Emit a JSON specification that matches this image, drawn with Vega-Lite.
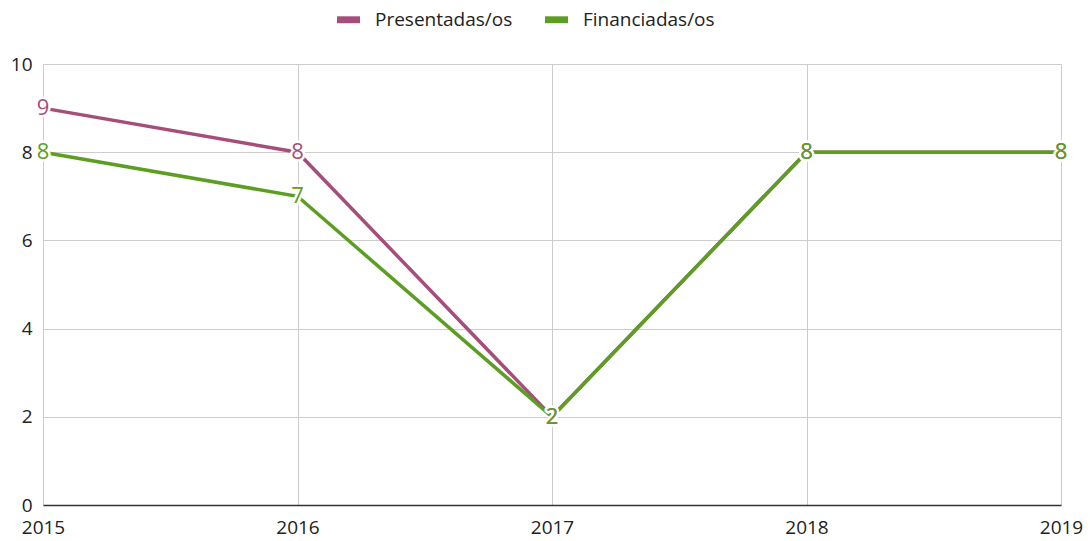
{
  "$schema": "https://vega.github.io/schema/vega-lite/v6.json",
  "width": 1018,
  "height": 441,
  "autosize": {"type": "none"},
  "padding": {"left": 43, "top": 64, "right": 29, "bottom": 36},
  "config": {
    "view": {"stroke": null},
    "font": "Open Sans",
    "axis": {"labelFont": "Open Sans", "labelFontSize": 19, "labelColor": "#222222", "gridColor": "#cccccc", "gridWidth": 1, "ticks": false},
    "legend": {"labelFont": "Open Sans", "labelFontSize": 19, "labelColor": "#222222"}
  },
  "data": {
    "values": [
      {"year": "2015", "series": "Presentadas/os", "value": 9},
      {"year": "2016", "series": "Presentadas/os", "value": 8},
      {"year": "2017", "series": "Presentadas/os", "value": 2},
      {"year": "2018", "series": "Presentadas/os", "value": 8},
      {"year": "2019", "series": "Presentadas/os", "value": 8},
      {"year": "2015", "series": "Financiadas/os", "value": 8},
      {"year": "2016", "series": "Financiadas/os", "value": 7},
      {"year": "2017", "series": "Financiadas/os", "value": 2},
      {"year": "2018", "series": "Financiadas/os", "value": 8},
      {"year": "2019", "series": "Financiadas/os", "value": 8}
    ]
  },
  "encoding": {
    "x": {
      "field": "year", "type": "ordinal",
      "scale": {"type": "point", "padding": 0},
      "axis": {"title": null, "labelAngle": 0, "grid": true, "domainColor": "#333333", "domainWidth": 1.5, "labelPadding": 13}
    },
    "y": {
      "field": "value", "type": "quantitative",
      "scale": {"domain": [0, 10]},
      "axis": {"title": null, "values": [0, 2, 4, 6, 8, 10], "domain": false, "labelPadding": 11, "grid": true}
    },
    "order": {"field": "series", "sort": "descending"}
  },
  "layer": [
    {
      "mark": {"type": "line", "strokeWidth": 3.5},
      "encoding": {
        "color": {
          "field": "series", "type": "nominal",
          "scale": {"domain": ["Presentadas/os", "Financiadas/os"], "range": ["#a64d79", "#5c9e22"]},
          "sort": ["Presentadas/os", "Financiadas/os"],
          "legend": {
            "title": null, "orient": "none", "direction": "horizontal",
            "legendX": 294, "legendY": -56,
            "symbolType": "M-1,-0.3L1,-0.3L1,0.3L-1,0.3Z",
            "symbolSize": 529, "symbolStrokeWidth": 0,
            "columnPadding": 32, "labelOffset": 15
          }
        },
        "detail": {"field": "series"}
      }
    },
    {
      "mark": {"type": "text", "fontSize": 22, "fill": "white", "stroke": "white", "strokeWidth": 5, "strokeJoin": "round", "baseline": "middle", "align": "center"},
      "encoding": {"text": {"field": "value", "type": "quantitative"}, "detail": {"field": "series"}}
    },
    {
      "mark": {"type": "text", "fontSize": 22, "baseline": "middle", "align": "center"},
      "encoding": {
        "text": {"field": "value", "type": "quantitative"},
        "color": {"field": "series", "type": "nominal", "legend": null}
      }
    }
  ]
}
